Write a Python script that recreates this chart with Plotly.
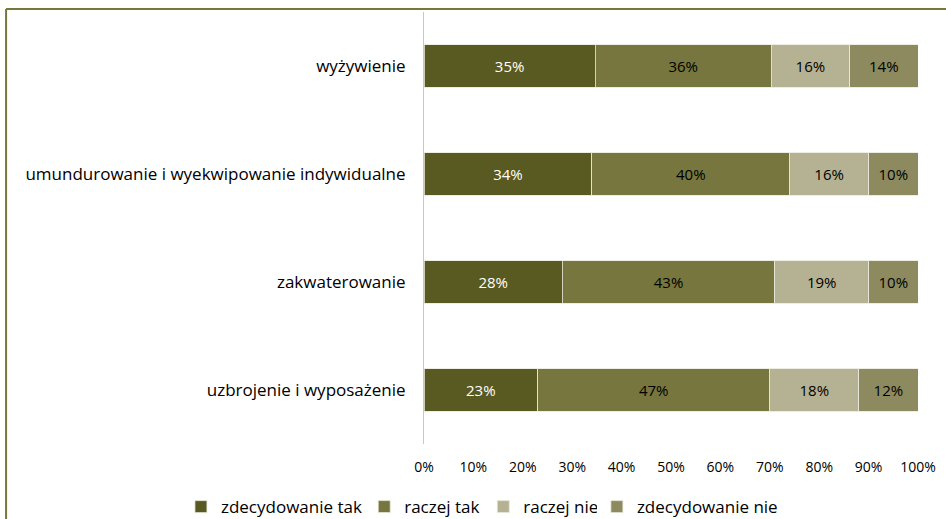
import plotly.graph_objects as go

categories = ["wyżywienie", "umundurowanie i wyekwipowanie indywidualne",
              "zakwaterowanie", "uzbrojenie i wyposażenie"]
series_names = ["zdecydowanie tak", "raczej tak", "raczej nie", "zdecydowanie nie"]
zdecydowanie_tak = [35, 34, 28, 23]
raczej_tak = [36, 40, 43, 47]
raczej_nie = [16, 16, 19, 18]
zdecydowanie_nie = [14, 10, 10, 12]
x_ticks = [0, 10, 20, 30, 40, 50, 60, 70, 80, 90, 100]

series = [zdecydowanie_tak, raczej_tak, raczej_nie, zdecydowanie_nie]
colors = ["#595a22", "#76763e", "#b5b293", "#8c8a5e"]
text_colors = ["white", "black", "black", "black"]
FONT = "Open Sans"

# one legend per series so each entry can sit where the original has it
legend_ids = ["legend", "legend2", "legend3", "legend4"]
legend_x = [-0.492, -0.121, 0.12, 0.35]

fig = go.Figure()
for name, vals, col, tcol, lid in zip(series_names, series, colors, text_colors, legend_ids):
    fig.add_trace(go.Bar(
        y=categories, x=vals, name=name, orientation="h", legend=lid,
        showlegend=True,
        marker=dict(color=col, line=dict(color="#e8e8dc", width=0.8)),
        text=[f"{v}%" for v in vals], textposition="inside",
        insidetextanchor="middle",
        textfont=dict(color=tcol, size=15, family=FONT),
    ))

fig.update_layout(
    barmode="stack", barnorm="percent", bargap=0.61,
    width=946, height=519, showlegend=True,
    margin=dict(l=424, r=28, t=12, b=75, autoexpand=False),
    paper_bgcolor="white", plot_bgcolor="white",
    font=dict(family=FONT, size=15, color="black"),
    uniformtext=dict(mode="show", minsize=10),
)
for lid, lx in zip(legend_ids, legend_x):
    fig.update_layout({lid: dict(orientation="h", x=lx, xanchor="left",
                                 y=-0.146, yanchor="middle", visible=True,
                                 font=dict(size=17), itemwidth=30)})

fig.update_xaxes(range=[0, 100], tickvals=x_ticks, automargin=False,
                 ticktext=[f"{t}%" for t in x_ticks], showgrid=False,
                 zeroline=False, ticks="", ticklabelstandoff=13, tickfont=dict(size=14))
fig.update_yaxes(autorange="reversed", showline=True, linecolor="#c8c8c8", automargin=False,
                 linewidth=1, ticks="", ticklabelstandoff=14, tickfont=dict(size=17))

# frame of the original chart area (only top and left edges visible)
fig.add_shape(type="line", xref="paper", yref="paper", x0=-0.846, x1=1.1,
              y0=1.007, y1=1.007, line=dict(color="#76763e", width=2))
fig.add_shape(type="line", xref="paper", yref="paper", x0=-0.846, x1=-0.846,
              y0=1.007, y1=-0.2, line=dict(color="#76763e", width=2))

# drop the default page margin so the figure sits at the window's top-left corner
fig.write_html("out.html", config={"displayModeBar": False},
               post_script="document.body.style.margin='0';")
